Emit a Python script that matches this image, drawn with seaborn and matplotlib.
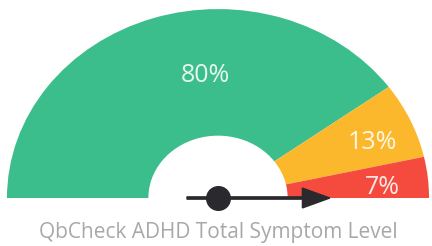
import numpy as np
import matplotlib
matplotlib.use("Agg")
import matplotlib.pyplot as plt
import seaborn as sns
from matplotlib.patches import Wedge

# gauge data
levels = ["Normal", "Elevated", "High"]
shares = [80, 13, 7]
colors = ["#3bbe8c", "#fcb82c", "#f54b3e"]
needle_value = 100  # percent of the scale
title = "QbCheck ADHD Total Symptom Level"

# label spots (x, y) in gauge units
label_pos = [(-0.06, 0.65), (0.73, 0.296), (0.78, 0.058)]

sns.set_theme(style="white")
plt.rcParams['font.family'] = ['Open Sans', 'DejaVu Sans']

fig = plt.figure(figsize=(4.32, 2.46), dpi=100)
ax = fig.add_axes([0, 0, 1, 1])

# segments, running from 180 deg down to 0 deg
start = 180.0
total = float(sum(shares))
for share, col, (lx, ly) in zip(shares, colors, label_pos):
    sweep = 180.0 * share / total
    w = Wedge((0, 0), 1.0, start - sweep, start, width=0.67,
              facecolor=col, edgecolor="none")
    ax.add_patch(w)
    ax.text(lx, ly, f"{share}%", ha="center", va="center",
            fontsize=18, color="white", alpha=0.88)
    start -= sweep

# needle
ang = np.deg2rad(180 - 180 * needle_value / 100)
tail, tip = -0.147, 0.53
x0, y0 = tail * np.cos(ang), tail * np.sin(ang)
ax.arrow(x0, y0, (tip - tail) * np.cos(ang), (tip - tail) * np.sin(ang),
         width=0.012, head_width=0.105, head_length=0.13,
         length_includes_head=True, color="#2a2a2e", zorder=5)
ax.plot([0], [0], marker="o", markersize=17, color="#2a2a2e", zorder=6)

ax.text(0.0, -0.18, title, ha="center", va="center", fontsize=15,
        color="#a8a8a8")

ax.set_xlim(-1.033, 1.014)
ax.set_ylim(-0.254, 1.048)
ax.set_aspect("auto")
ax.axis("off")

fig.savefig("out.png", dpi=100)
